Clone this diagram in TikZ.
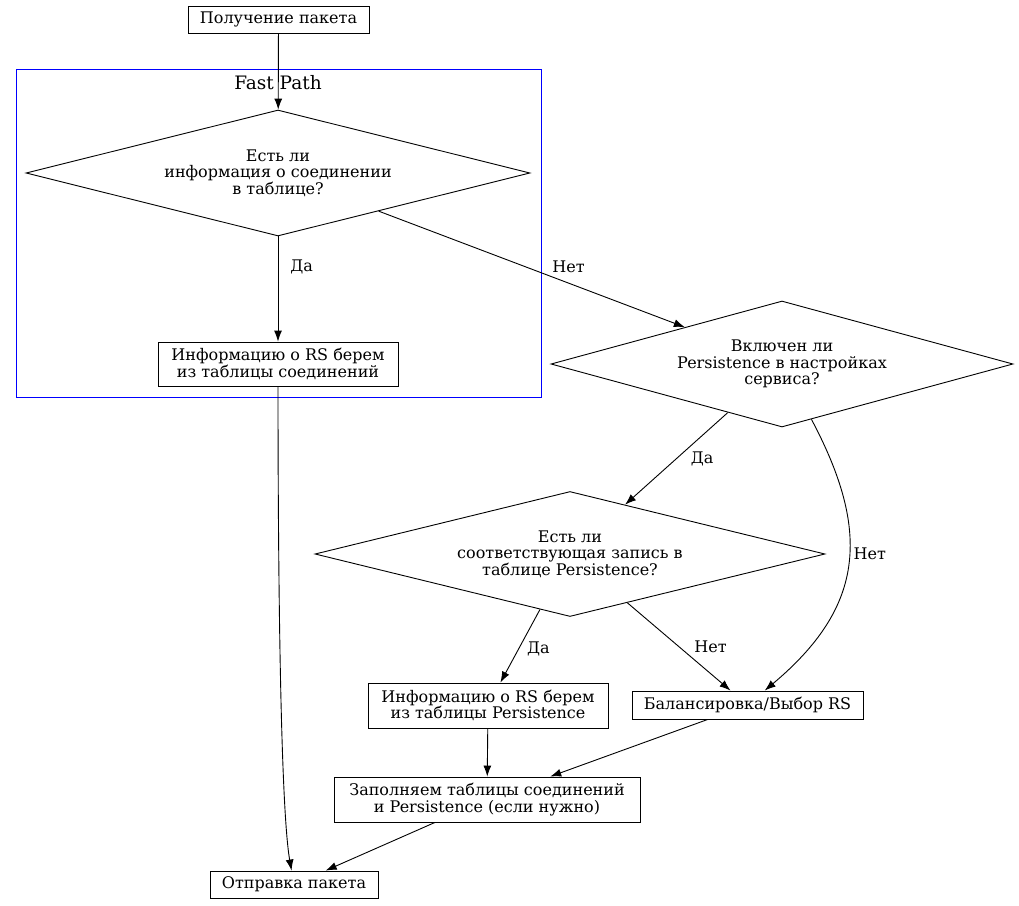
\documentclass[tikz,border=0pt]{standalone}
\usepackage{fontspec}
\setmainfont{DejaVu Serif}
\usetikzlibrary{arrows.meta, positioning, shapes.geometric}
\tikzset{
    box/.style={draw, rectangle, inner sep=0pt, minimum height=27pt, align=center},
    question/.style={draw, diamond, inner sep=0pt, shape aspect=4, align=center},
    cluster/.style={draw=blue, rectangle, inner sep=0pt},
    lbl/.style={inner sep=0pt},
    every edge/.append style={-{Latex[length=11pt, width=8pt]}},
}

\begin{document}
\begin{tikzpicture}[x=1pt, y=1pt, line width=0.9pt,
    every node/.append style={font=\fontsize{16}{16.5}\selectfont}]
    \useasboundingbox (0,0) rectangle (1019,-905);

    \node[cluster, minimum width=525pt, minimum height=328pt] (fastpath) at (278.5,-233) {};
    \node[font=\fontsize{18.5}{19}\selectfont] (fastlabel) at (278,-83) {Fast Path};

    \node[box, minimum width=181pt] (recv) at (278.5,-19.5) {Получение пакета};
    \node[question, minimum width=504pt, minimum height=126pt] (inconn) at (278,-173) {Есть ли\\информация о соединении\\в таблице?};
    \node[box, minimum width=240pt, minimum height=44pt] (fromconn) at (278,-364) {Информацию о RS берем\\из таблицы соединений};

    \draw (recv) edge (inconn);
    \draw (inconn) edge node[lbl, pos=0.29, right=12pt]{Да} (fromconn);

    \node[question, minimum width=462pt, minimum height=126pt] (persist) at (782,-364) {Включен ли\\Persistence в настройках\\сервиса?};
    \node[question, minimum width=510pt, minimum height=125pt] (inpers) at (570,-554) {Есть ли\\соответствующая запись в\\таблице Persistence?};

    \draw (inconn) edge node[lbl, pos=0.62, above=10pt]{Нет} (persist);
    \draw (persist) edge node[lbl, pos=0.5, right=14pt]{Да} (inpers);

    \node[box, minimum width=240pt, minimum height=45pt] (frompers) at (488,-705.5) {Информацию о RS берем\\из таблицы Persistence};
    \node[box, minimum width=231pt, minimum height=28pt] (balance) at (747.5,-705) {Балансировка/Выбор RS};

    \draw (persist) edge[out=-62, in=40, looseness=1.2] node[lbl, pos=0.45, right=4pt]{Нет} (balance);
    \draw (inpers) edge node[lbl, pos=0.54, right=8pt]{Да} (frompers);
    \draw (inpers) edge node[lbl, pos=0.5, right=15pt]{Нет} (balance);

    \node[box, minimum width=306pt, minimum height=45pt] (fill) at (487,-799.5) {Заполняем таблицы соединений\\и Persistence (если нужно)};
    \node[box, minimum width=168pt] (send) at (294,-884.5) {Отправка пакета};

    \draw (frompers) edge (fill);
    \draw (balance) edge (fill);
    \draw (fill) edge (send);
    \draw (fromconn) edge[out=-90, in=100, looseness=0.4] (send);
\end{tikzpicture}
\end{document}
